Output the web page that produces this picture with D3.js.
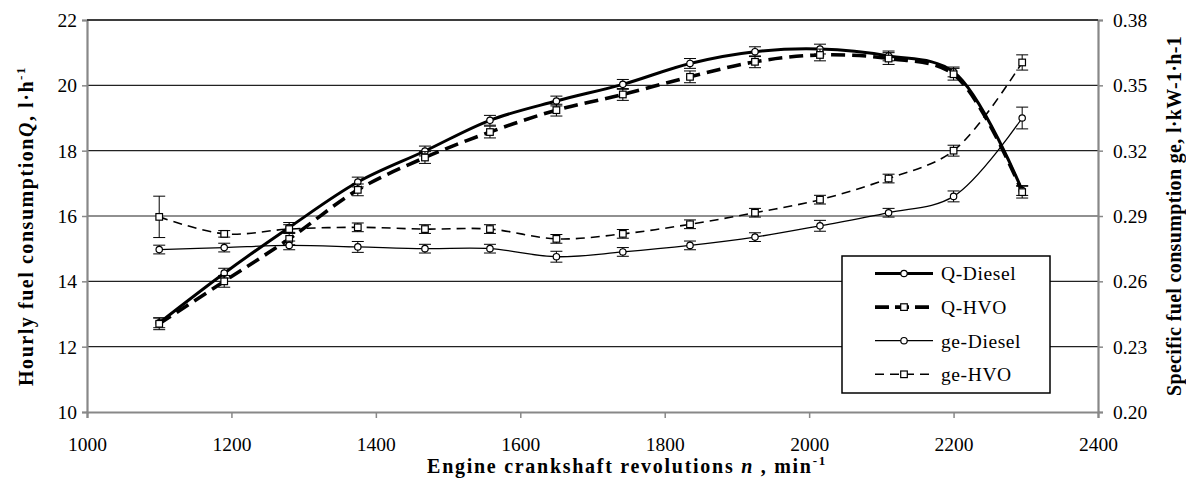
<!DOCTYPE html>
<html><head><meta charset="utf-8">
<script src="https://cdn.jsdelivr.net/npm/d3@7"></script>
<style>
html,body{margin:0;padding:0;background:#fff;}
svg{display:block;}
svg text{font-family:"Liberation Serif","Times New Roman",serif !important;}
</style></head>
<body>
<svg id="chart" width="1186" height="481"></svg>
<script>
// ---- data ----
const rpm = [1100,1190,1280,1375,1468,1558,1650,1742,1835,1925,2015,2110,2200,2295];
const qDiesel = [12.73,14.25,15.65,17.04,17.99,18.93,19.52,20.03,20.67,21.03,21.11,20.90,20.41,16.78];
const qHVO    = [12.70,14.00,15.30,16.80,17.79,18.57,19.24,19.72,20.26,20.72,20.93,20.82,20.34,16.73];
const geDiesel = [0.2746,0.2755,0.2765,0.2758,0.2750,0.2750,0.2713,0.2735,0.2765,0.2803,0.2855,0.2915,0.2990,0.3350];
const geHVO    = [0.2896,0.2818,0.2840,0.2848,0.2840,0.2840,0.2795,0.2818,0.2862,0.2915,0.2975,0.3072,0.3200,0.3605];
const qDieselErr = [0.15,0.15,0.15,0.15,0.15,0.15,0.15,0.15,0.15,0.15,0.15,0.15,0.15,0.15];
const qHVOErr    = [0.18,0.18,0.18,0.18,0.18,0.18,0.18,0.18,0.18,0.18,0.18,0.18,0.18,0.18];
const geDieselErr = [0.002,0.002,0.002,0.0025,0.002,0.002,0.0025,0.002,0.002,0.002,0.0025,0.002,0.0025,0.005];
const geHVOErr    = [0.0095,0.0015,0.002,0.002,0.002,0.002,0.002,0.002,0.002,0.002,0.002,0.002,0.0025,0.0035];
const xTicks = [1000,1200,1400,1600,1800,2000,2200,2400];
const yLeftTicks = [10,12,14,16,18,20,22];
const yRightTicks = [0.20,0.23,0.26,0.29,0.32,0.35,0.38];
const seriesNames = ["Q-Diesel","Q-HVO","ge-Diesel","ge-HVO"];

// ---- layout ----
const L = 87, R = 1098, T = 20, B = 412;
const svg = d3.select("#chart");
const x = d3.scaleLinear().domain([1000,2400]).range([L,R]);
const yL = d3.scaleLinear().domain([10,22]).range([B,T]);
const yR = d3.scaleLinear().domain([0.20,0.38]).range([B,T]);

// gridlines
svg.append("g").selectAll("line").data(yLeftTicks.slice(1)).join("line")
  .attr("x1",L).attr("x2",R).attr("y1",d=>yL(d)).attr("y2",d=>yL(d))
  .attr("stroke","#222").attr("stroke-width",1.2);

// axes
const fs = 19.5;
const xAxis = svg.append("g").attr("transform",`translate(0,${B})`)
  .call(d3.axisBottom(x).tickValues(xTicks).tickSize(6).tickPadding(19).tickFormat(d3.format("d")));
const yAxisL = svg.append("g").attr("transform",`translate(${L},0)`)
  .call(d3.axisLeft(yL).tickValues(yLeftTicks).tickSize(5).tickPadding(5).tickFormat(d3.format("d")));
const yAxisR = svg.append("g").attr("transform",`translate(${R},0)`)
  .call(d3.axisRight(yR).tickValues(yRightTicks).tickSize(5).tickPadding(10).tickFormat(d3.format(".2f")));
[xAxis,yAxisL,yAxisR].forEach(g=>{
  g.attr("font-family",null).attr("font-size",null);
  g.select(".domain").attr("stroke","#888").attr("stroke-width",2.2);
  g.selectAll(".tick line").attr("stroke","#888").attr("stroke-width",1.5);
  g.selectAll(".tick text").attr("font-size",fs).attr("fill","#000");
});
yAxisL.selectAll(".tick text").attr("dy","0.33em");
yAxisR.selectAll(".tick text").attr("dy","0.33em");

// series definitions
const defs = [
  {name:seriesNames[0], vals:qDiesel, err:qDieselErr, y:yL, w:3, dash:null, marker:"circle"},
  {name:seriesNames[1], vals:qHVO, err:qHVOErr, y:yL, w:3.6, dash:"14,7", marker:"square"},
  {name:seriesNames[2], vals:geDiesel, err:geDieselErr, y:yR, w:1.3, dash:null, marker:"circle"},
  {name:seriesNames[3], vals:geHVO, err:geHVOErr, y:yR, w:1.6, dash:"9,6", marker:"square"}
];

const plot = svg.append("g");
defs.forEach(s=>{
  const pts = rpm.map((n,i)=>({n, v:s.vals[i], e:s.err[i]}));
  const line = d3.line().x(d=>x(d.n)).y(d=>s.y(d.v)).curve(d3.curveCatmullRom.alpha(0.5));
  plot.append("path").datum(pts).attr("d",line).attr("fill","none")
    .attr("stroke","#000").attr("stroke-width",s.w)
    .attr("stroke-dasharray",s.dash);
  s.pts = pts;
});
// error bars and markers
defs.forEach(s=>{
  const g = plot.append("g");
  const eb = g.selectAll("g.eb").data(s.pts).join("g");
  eb.append("line").attr("x1",d=>x(d.n)).attr("x2",d=>x(d.n))
    .attr("y1",d=>s.y(d.v-d.e)).attr("y2",d=>s.y(d.v+d.e)).attr("stroke","#000").attr("stroke-width",1);
  [-1,1].forEach(k=>{
    eb.append("line").attr("x1",d=>x(d.n)-6).attr("x2",d=>x(d.n)+6)
      .attr("y1",d=>s.y(d.v+k*d.e)).attr("y2",d=>s.y(d.v+k*d.e)).attr("stroke","#000").attr("stroke-width",1);
  });
  if(s.marker==="circle"){
    g.selectAll("circle").data(s.pts).join("circle").attr("cx",d=>x(d.n)).attr("cy",d=>s.y(d.v))
      .attr("r",3.2).attr("fill","#fff").attr("stroke","#000").attr("stroke-width",1.2);
  } else {
    g.selectAll("rect").data(s.pts).join("rect").attr("x",d=>x(d.n)-3.3).attr("y",d=>s.y(d.v)-3.3)
      .attr("width",6.6).attr("height",6.6).attr("fill","#fff").attr("stroke","#000").attr("stroke-width",1.2);
  }
});

// top border line
svg.append("line").attr("x1",L).attr("x2",R).attr("y1",T).attr("y2",T).attr("stroke","#222").attr("stroke-width",1.5);

// legend
const lg = svg.append("g");
lg.append("rect").attr("x",842).attr("y",256).attr("width",208).attr("height",137)
  .attr("fill","#fff").attr("stroke","#000").attr("stroke-width",1.5);
defs.forEach((s,i)=>{
  const yy = 273.5 + i*33.6;
  lg.append("line").attr("x1",875).attr("x2",933).attr("y1",yy).attr("y2",yy)
    .attr("stroke","#000").attr("stroke-width",s.w).attr("stroke-dasharray",s.dash ? (s.w>2?"14,6":"9,6") : null);
  if(s.marker==="circle") lg.append("circle").attr("cx",904).attr("cy",yy).attr("r",3.2).attr("fill","#fff").attr("stroke","#000").attr("stroke-width",1.2);
  else lg.append("rect").attr("x",904-3.3).attr("y",yy-3.3).attr("width",6.6).attr("height",6.6).attr("fill","#fff").attr("stroke","#000").attr("stroke-width",1.2);
  lg.append("text").attr("x",941).attr("y",yy).attr("dy","0.35em").attr("font-size",fs)
    .attr("letter-spacing",0.6).text(s.name);
});

// axis titles (fit to measured widths via letter-spacing)
function fit(t, target){
  const w = t.node().getComputedTextLength();
  const n = t.text().length;
  const ls = Math.max(0,(target - w)/n);
  t.attr("letter-spacing", ls.toFixed(2));
}
const tfs = 20;
const xt = svg.append("text").attr("x",627).attr("y",473).attr("text-anchor","middle")
  .attr("font-size",tfs).attr("font-weight","bold");
xt.append("tspan").text("Engine crankshaft revolutions ");
xt.append("tspan").attr("font-style","italic").text("n");
xt.append("tspan").text(" , min");
xt.append("tspan").attr("dy",-8).attr("font-size",13).text("-1");
fit(xt, 400);

const ylt = svg.append("text").attr("transform","translate(33,226) rotate(-90)").attr("text-anchor","middle")
  .attr("font-size",tfs).attr("font-weight","bold");
ylt.append("tspan").text("Hourly fuel consumption");
ylt.append("tspan").attr("font-style","italic").text("Q");
ylt.append("tspan").text(", l·h");
ylt.append("tspan").attr("dy",-8).attr("font-size",13).text("-1");
fit(ylt, 320);

const yrt = svg.append("text").attr("transform","translate(1181,216) rotate(-90)").attr("text-anchor","middle")
  .attr("font-size",tfs).attr("font-weight","bold")
  .text("Specific fuel consumption ge, l·kW-1·h-1");
fit(yrt, 360);
</script>
</body></html>
